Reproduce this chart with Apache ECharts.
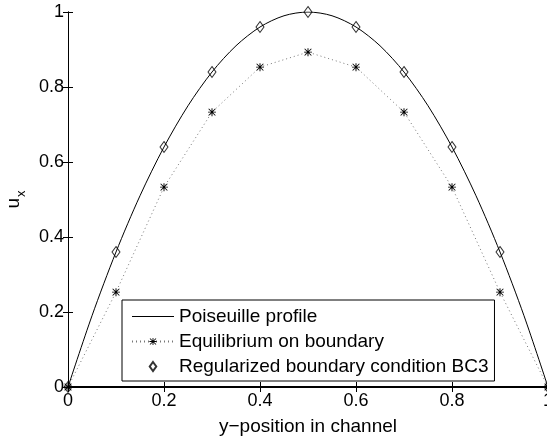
<!DOCTYPE html>
<html>
<head>
<meta charset="utf-8">
<script src="https://cdn.jsdelivr.net/npm/echarts@6/dist/echarts.min.js"></script>
<style>
  html, body { margin: 0; padding: 0; background: #fff; }
  #chart { width: 547px; height: 438px; }
</style>
</head>
<body>
<div id="chart"></div>
<script>
// y-position in channel for the markers
var yPos = [0, 0.1, 0.2, 0.3, 0.4, 0.5, 0.6, 0.7, 0.8, 0.9, 1];
// Poiseuille profile
var profileX = [0, 0.05, 0.1, 0.15, 0.2, 0.25, 0.3, 0.35, 0.4, 0.45, 0.5, 0.55, 0.6, 0.65, 0.7, 0.75, 0.8, 0.85, 0.9, 0.95, 1];
var profileY = [0, 0.19, 0.36, 0.51, 0.64, 0.75, 0.84, 0.91, 0.96, 0.99, 1, 0.99, 0.96, 0.91, 0.84, 0.75, 0.64, 0.51, 0.36, 0.19, 0];
var equilibrium = [0, 0.253, 0.533, 0.733, 0.853, 0.893, 0.853, 0.733, 0.533, 0.253, 0];
var regularized = [0, 0.36, 0.64, 0.84, 0.96, 1, 0.96, 0.84, 0.64, 0.36, 0];

var seriesNames = ['Poiseuille profile', 'Equilibrium on boundary', 'Regularized boundary condition BC3'];

function pairs(xs, ys) {
    var out = [];
    xs.forEach(function (x, i) { out.push([x, ys[i]]); });
    return out;
}

// MATLAB style '*' marker
var star = 'path://M0,4.4 L10,4.4 L10,5.6 L0,5.6 Z M4.4,0 L5.6,0 L5.6,10 L4.4,10 Z ' +
    'M0.4,1.2 L1.2,0.4 L9.6,8.8 L8.8,9.6 Z M8.8,0.4 L9.6,1.2 L1.2,9.6 L0.4,8.8 Z';

var font = 'Liberation Sans';
var chart = echarts.init(document.getElementById('chart'));

var tickAxis = {
    type: 'value', min: 0, max: 1, interval: 0.2,
    axisLine: { show: true, lineStyle: { color: '#000', width: 1 } },
    axisTick: { show: true, inside: true, length: 5, lineStyle: { color: '#000' } },
    splitLine: { show: false }
};

chart.setOption({
    animation: false,
    backgroundColor: '#fff',
    textStyle: { fontFamily: font },
    grid: { left: 68, right: -1, top: 12, bottom: 51, containLabel: false, outerBoundsMode: 'none' },
    xAxis: [
        Object.assign({}, tickAxis, {
            position: 'bottom',
            name: 'y\u2212position in channel',
            nameLocation: 'middle',
            nameGap: 30,
            nameTextStyle: { fontSize: 19, color: '#000', fontFamily: font },
            axisLine: { show: true, lineStyle: { color: '#000', width: 2 } },
            axisLabel: { fontSize: 18, color: '#000', margin: 5, fontFamily: font }
        }),
        Object.assign({}, tickAxis, { position: 'top', axisLabel: { show: false } })
    ],
    yAxis: [
        Object.assign({}, tickAxis, {
            position: 'left',
            name: '{u|u}{x|x}',
            nameLocation: 'middle',
            nameRotate: 90,
            nameGap: 38,
            nameTextStyle: {
                color: '#000', fontFamily: font,
                rich: {
                    u: { fontSize: 19, color: '#000', fontFamily: font, lineHeight: 24, verticalAlign: 'top' },
                    x: { fontSize: 13, color: '#000', fontFamily: font, lineHeight: 24, verticalAlign: 'bottom', padding: [12, 0, 0, 1] }
                }
            },
            axisLabel: { fontSize: 18, color: '#000', margin: 4, fontFamily: font }
        }),
        Object.assign({}, tickAxis, { position: 'right', axisLabel: { show: false } })
    ],
    legend: {
        orient: 'vertical',
        left: 122,
        top: 300,
        data: [
            { name: seriesNames[0], icon: 'path://M0,0 L42,0 L42,1 L0,1 Z' },
            { name: seriesNames[1] },
            { name: seriesNames[2], icon: 'path://M4,0 L8,5.5 L4,11 L0,5.5 Z' }
        ],
        backgroundColor: '#fff',
        borderColor: '#000',
        borderWidth: 1,
        borderRadius: 0,
        padding: [7, 6, 5, 9],
        itemGap: 6,
        itemWidth: 42,
        itemHeight: 9,
        textStyle: { fontSize: 19, color: '#000', fontFamily: font }
    },
    series: [
        {
            name: seriesNames[0],
            type: 'line',
            data: pairs(profileX, profileY),
            smooth: 0.3,
            symbol: 'none',
            lineStyle: { color: '#000', width: 1 },
            itemStyle: { color: '#000' },
            z: 3
        },
        {
            name: seriesNames[1],
            type: 'line',
            data: pairs(yPos, equilibrium),
            symbol: star,
            symbolSize: 8,
            showAllSymbol: true,
            clip: false,
            lineStyle: { color: '#777', width: 1, type: [1, 3] },
            itemStyle: { color: '#000' },
            z: 4
        },
        {
            name: seriesNames[2],
            type: 'scatter',
            data: pairs(yPos, regularized),
            symbol: 'diamond',
            symbolSize: [8, 11],
            clip: false,
            itemStyle: { color: 'rgba(0,0,0,0)', borderColor: '#000', borderWidth: 1 },
            z: 5
        }
    ]
});
</script>
</body>
</html>
